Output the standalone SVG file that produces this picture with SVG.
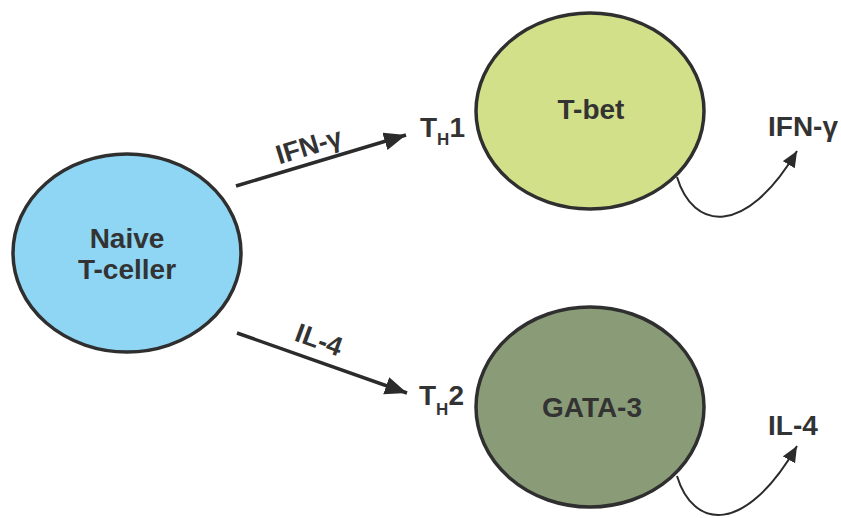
<svg xmlns="http://www.w3.org/2000/svg" width="841" height="518" viewBox="0 0 841 518">
  <style>
    .cell { stroke: #2f2f2f; stroke-width: 3.5; }
    .lbl { font-family: "Liberation Sans", Arial, sans-serif; font-weight: bold; fill: #333333; }
    .big { font-size: 28px; }
    .edge { fill: none; stroke: #2b2b2b; }
    .main { stroke-width: 3.5; marker-end: url(#headBig); }
    .out { stroke-width: 2; marker-end: url(#headSmall); }
  </style>
  <defs>
    <marker id="headBig" markerUnits="userSpaceOnUse" markerWidth="24" markerHeight="20" refX="22" refY="9" orient="auto">
      <path d="M0,0 L22,9 L0,18 Z" fill="#2b2b2b"/>
    </marker>
    <marker id="headSmall" markerUnits="userSpaceOnUse" markerWidth="18" markerHeight="16" refX="16" refY="7" orient="auto">
      <path d="M0,0 L16,7 L0,14 Z" fill="#2b2b2b"/>
    </marker>
  </defs>

  <rect width="841" height="518" fill="#ffffff"/>

  <!-- connectors -->
  <g id="connectors">
    <line class="edge main" x1="236" y1="186" x2="406" y2="135"/>
    <line class="edge main" x1="237" y1="333" x2="407" y2="393"/>
    <path class="edge out" d="M677,177 C693,230 745,238 797,151"/>
    <path class="edge out" d="M677,476 C693,529 745,536 797,446"/>
    <text class="lbl" font-size="27" text-anchor="middle" transform="translate(309,146) rotate(-17)" y="9">IFN-γ</text>
    <text class="lbl" font-size="27" text-anchor="middle" transform="translate(319,340) rotate(20)" y="9">IL-4</text>
  </g>

  <!-- naive T cell -->
  <g id="naive">
    <ellipse class="cell" cx="127" cy="253" rx="114" ry="99" fill="#8fd6f4"/>
    <text class="lbl big" x="127" y="248" text-anchor="middle">Naive</text>
    <text class="lbl big" x="127" y="279" text-anchor="middle">T-celler</text>
  </g>

  <!-- Th1 -->
  <g id="th1">
    <text class="lbl big" x="420" y="137">T<tspan dy="8" font-size="17">H</tspan><tspan dy="-8">1</tspan></text>
  </g>
  <g id="tbet">
    <ellipse class="cell" cx="590" cy="111" rx="114" ry="98" fill="#d2e08a"/>
    <text class="lbl big" x="591" y="119" text-anchor="middle">T-bet</text>
  </g>
  <g id="ifng-out">
    <text class="lbl big" x="768" y="136">IFN-γ</text>
  </g>

  <!-- Th2 -->
  <g id="th2">
    <text class="lbl big" x="419" y="405">T<tspan dy="10" font-size="17">H</tspan><tspan dy="-10">2</tspan></text>
  </g>
  <g id="gata3">
    <ellipse class="cell" cx="590" cy="407" rx="114" ry="100" fill="#8a9b78"/>
    <text class="lbl big" x="592" y="417" text-anchor="middle">GATA-3</text>
  </g>
  <g id="il4-out">
    <text class="lbl big" x="768" y="435">IL-4</text>
  </g>
</svg>
